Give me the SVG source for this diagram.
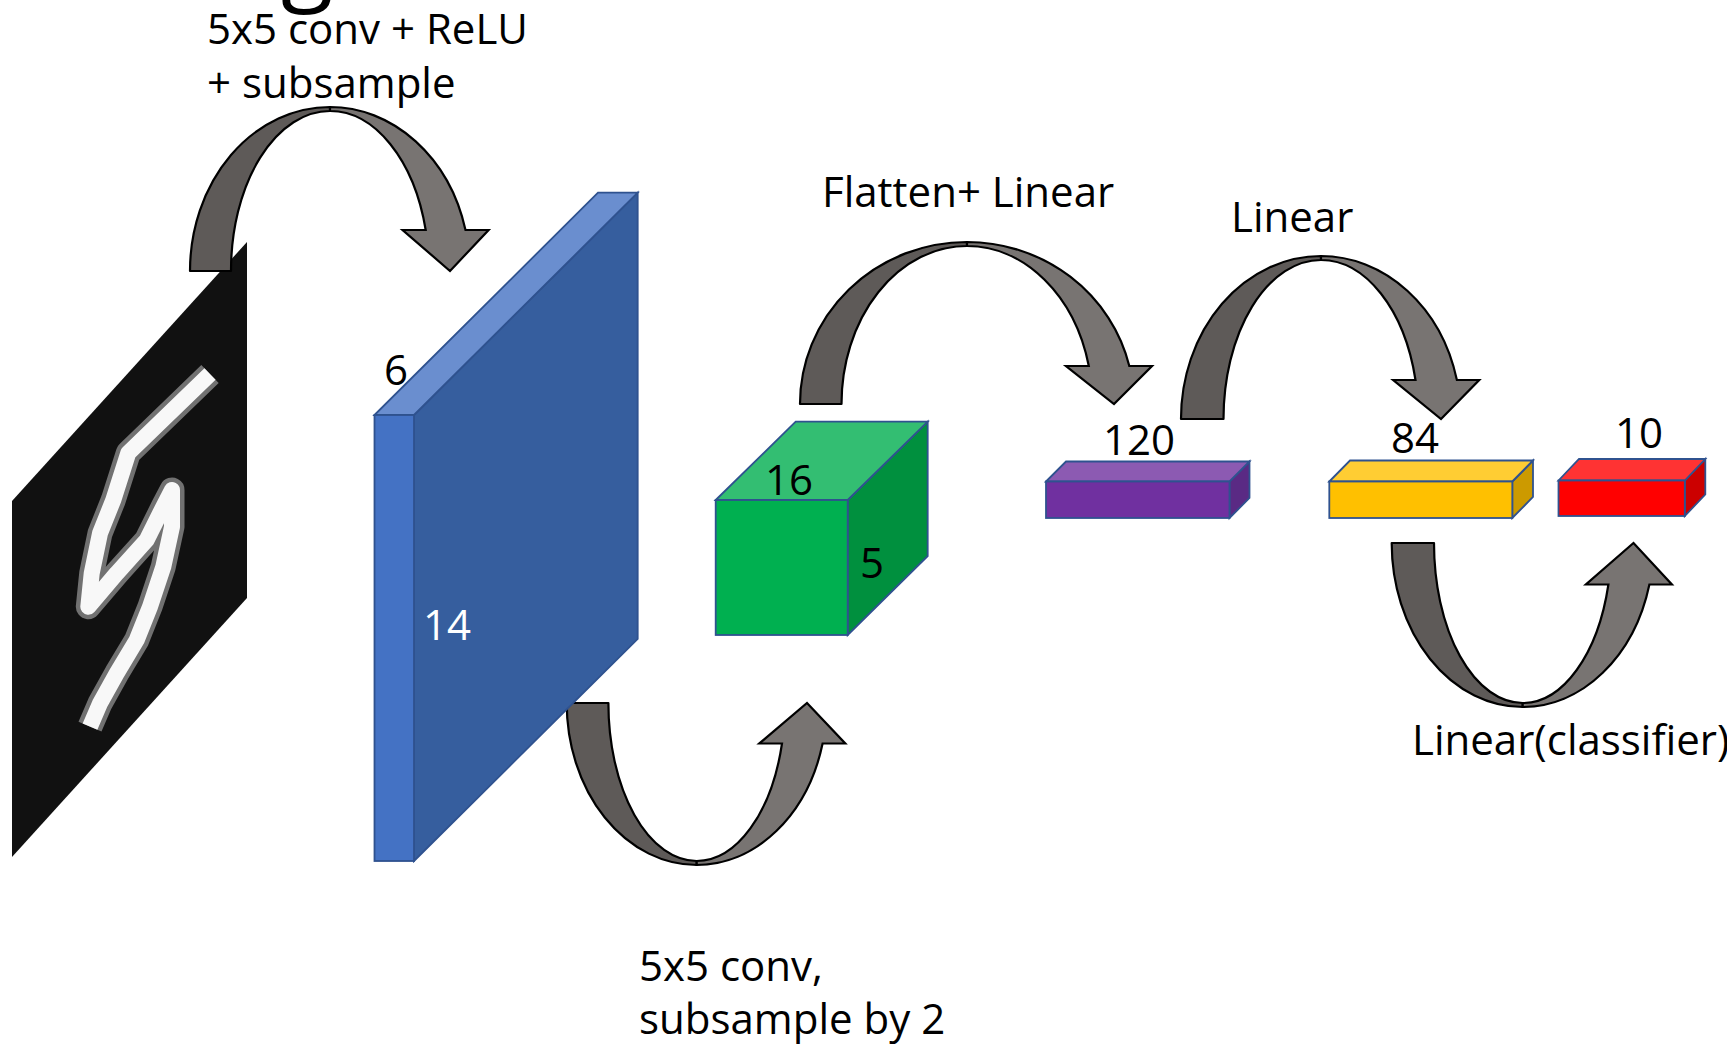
<svg xmlns="http://www.w3.org/2000/svg" width="1727" height="1044" viewBox="0 0 1727 1044">
<style>
text{font-family:"Open Sans","Liberation Sans",sans-serif;font-size:42px;fill:#000}
.arrow-back{fill:#5E5A58;stroke:#000;stroke-width:2.2;stroke-linejoin:round}
.arrow-front{fill:#787472;stroke:#000;stroke-width:2.2;stroke-linejoin:miter}
.edge{stroke:#2F528F;stroke-width:1.8;stroke-linejoin:miter}
.digit-halo{fill:none;stroke:#9a9a9a;stroke-width:25;stroke-linejoin:round;stroke-linecap:butt;opacity:0.7}
.digit-core{fill:none;stroke:#f8f8f8;stroke-width:16;stroke-linejoin:round;stroke-linecap:butt}
</style>
<rect x="0" y="0" width="1727" height="1044" fill="#fff"/>
<text x="281" y="-8" style="font-size:96px">g</text>

<g id="input-image">
  <polygon points="12,501 247,242 247,598 12,857" fill="#111"/>
  <polyline class="digit-halo" points="210,374 128.3,453 113.3,500 100,533.3 91.7,573.3 88.3,606.7 116.7,573.3 146.7,540 163.3,506.7 172,490 172,526.7 163.3,566.7 150,606.7 136.7,640 116.7,673.3 100,703.3 90,726.7"/>
  <polyline class="digit-core" points="210,374 128.3,453 113.3,500 100,533.3 91.7,573.3 88.3,606.7 116.7,573.3 146.7,540 163.3,506.7 172,490 172,526.7 163.3,566.7 150,606.7 136.7,640 116.7,673.3 100,703.3 90,726.7"/>
</g>

<g id="connectors">
  <g id="arrow-conv1">
    <path class="arrow-back" d="M190,271 A140,164 0 0 1 330,107 L330,111 A99,160 0 0 0 231,271 Z"/>
    <path class="arrow-front" d="M330,107 A140,164 0 0 1 465.5,230 L488.6,230 L450,271 L402.6,230 L425.7,230 A99,160 0 0 0 330,111 Z"/>
  </g>
  <g id="arrow-conv2">
    <path class="arrow-back" d="M566.7,703 A130,162 0 0 0 696.7,865 L696.7,861 A88.3,158 0 0 1 608.4,703 Z"/>
    <path class="arrow-front" d="M696.7,865 A130,162 0 0 0 822.6,743.5 L845.3,743.5 L807,703 L759.3,743.5 L782,743.5 A88.3,158 0 0 1 696.7,861 Z"/>
  </g>
  <g id="arrow-fc1">
    <path class="arrow-back" d="M800,404 A167,162 0 0 1 967,242 L967,246 A125.5,158 0 0 0 841.5,404 Z"/>
    <path class="arrow-front" d="M967,242 A167,162 0 0 1 1129.3,366 L1152,366 L1114,404 L1066,366 L1088.8,366 A125.5,158 0 0 0 967,246 Z"/>
  </g>
  <g id="arrow-fc2">
    <path class="arrow-back" d="M1181,419 A140,163 0 0 1 1321,256 L1321,260 A97.5,159 0 0 0 1223.5,419 Z"/>
    <path class="arrow-front" d="M1321,256 A140,163 0 0 1 1456.9,380 L1479.2,380 L1441,419 L1393.2,380 L1415.5,380 A97.5,159 0 0 0 1321,260 Z"/>
  </g>
  <g id="arrow-classifier">
    <path class="arrow-back" d="M1391.7,543 A131,164 0 0 0 1522.7,707 L1522.7,703 A88.7,160 0 0 1 1434,543 Z"/>
    <path class="arrow-front" d="M1522.7,707 A131,164 0 0 0 1649.4,584.5 L1671.9,584.5 L1633.5,543 L1585.9,584.5 L1608.4,584.5 A88.7,160 0 0 1 1522.7,703 Z"/>
  </g>
</g>

<g id="conv1-block">
  <polygon class="edge" points="414,415 637.7,192.7 637.7,638.8 414,861" fill="#365E9E"/>
  <polygon class="edge" points="374.5,415 598,192.7 637.7,192.7 414,415" fill="#6A8ECF"/>
  <rect class="edge" x="374.5" y="415" width="39.5" height="446" fill="#4472C4"/>
  <text x="384" y="385">6</text>
  <text x="423" y="640" style="fill:#fff">14</text>
</g>

<g id="conv2-block">
  <polygon class="edge" points="847.7,500 927.7,421.7 927.7,556 847.7,635" fill="#00903E"/>
  <polygon class="edge" points="715.7,500 795.7,421.7 927.7,421.7 847.7,500" fill="#33BE72"/>
  <rect class="edge" x="715.7" y="500" width="132" height="135" fill="#00B050"/>
  <text x="765" y="495">16</text>
  <text x="860" y="578">5</text>
</g>

<g id="fc120">
  <polygon class="edge" points="1229.5,481.5 1249.5,461.5 1249.5,498 1229.5,518" fill="#5A2A84"/>
  <polygon class="edge" points="1046,481.5 1066,461.5 1249.5,461.5 1229.5,481.5" fill="#8C5AB2"/>
  <rect class="edge" x="1046" y="481.5" width="183.5" height="36.5" fill="#7030A0"/>
  <text x="1103" y="455">120</text>
</g>

<g id="fc84">
  <polygon class="edge" points="1512.3,481.5 1533,460.5 1533,497 1512.3,518" fill="#CC9A00"/>
  <polygon class="edge" points="1329.3,481.5 1350,460.5 1533,460.5 1512.3,481.5" fill="#FFCD33"/>
  <rect class="edge" x="1329.3" y="481.5" width="183" height="36.5" fill="#FFC000"/>
  <text x="1391" y="453">84</text>
</g>

<g id="output10">
  <polygon class="edge" points="1684.8,480.5 1705.3,459 1705.3,494.5 1684.8,516" fill="#CC0000"/>
  <polygon class="edge" points="1558.5,480.5 1579,459 1705.3,459 1684.8,480.5" fill="#FF3333"/>
  <rect class="edge" x="1558.5" y="480.5" width="126.3" height="35.5" fill="#FF0000"/>
  <text x="1615" y="448">10</text>
</g>

<g id="labels">
  <text x="207" y="44">5x5 conv + ReLU</text>
  <text x="207" y="98">+ subsample</text>
  <text x="822" y="207">Flatten+ Linear</text>
  <text x="1231" y="232">Linear</text>
  <text x="1412" y="755">Linear(classifier)</text>
  <text x="639" y="981">5x5 conv,</text>
  <text x="639" y="1034">subsample by 2</text>
</g>
</svg>
